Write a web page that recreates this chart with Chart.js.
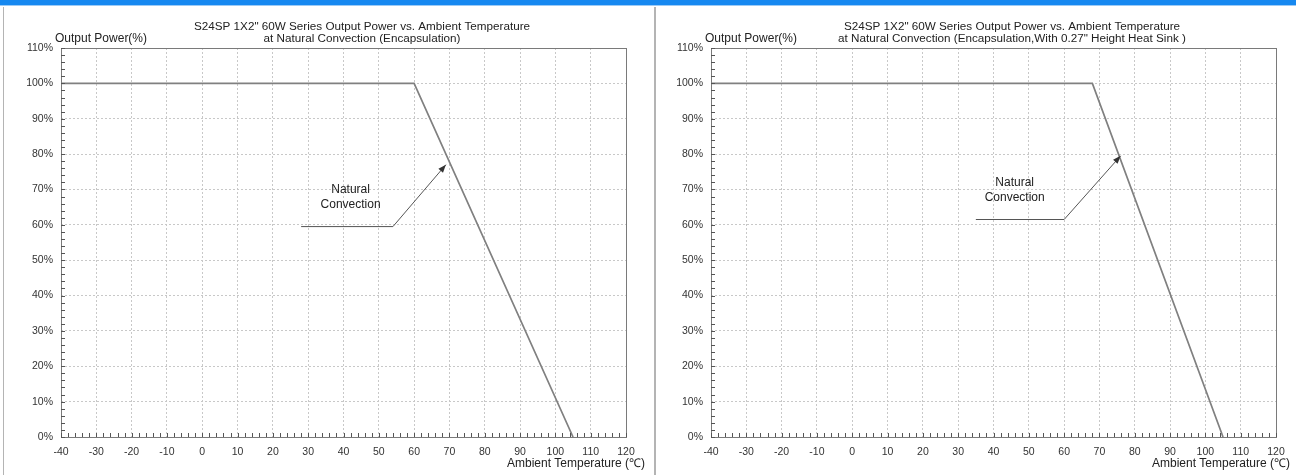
<!DOCTYPE html>
<html>
<head>
<meta charset="utf-8">
<script src="https://cdn.jsdelivr.net/npm/chart.js@4"></script>
<style>
body{margin:0;background:#fff;width:1296px;height:475px;overflow:hidden;position:relative}
#band{position:absolute;left:0;top:0;width:1296px;height:5px;background:#1688f0;border-bottom:1px solid #9ccaf5}
#c1{position:absolute;left:0;top:0}
#c2{position:absolute;left:655px;top:0}
.sep{position:absolute;top:7px;bottom:0;background:#b4b4b4}
</style>
</head>
<body>
<canvas id="c1" width="655" height="475"></canvas>
<canvas id="c2" width="641" height="475"></canvas>
<div id="band"></div>
<div class="sep" style="left:3px;width:1px"></div>
<div class="sep" style="left:654px;width:2px"></div>
<script>
// derating curves
var temp1 = [-40, 60, 105];
var power1 = [100, 100, 0];
var temp2 = [-40, 68, 105];
var power2 = [100, 100, 0];

// "Natural Convection" arrow (temperature, %)
var note1X = [28, 54, 69];
var note1Y = [59.5, 59.5, 77];
var note2X = [35, 60, 76];
var note2Y = [61.5, 61.5, 79.5];
var noteLabel1 = [42, 68];
var noteLabel2 = [46, 70];
var noteText = ["Natural", "Convection"];

var title1 = ["S24SP 1X2\" 60W Series Output Power vs. Ambient Temperature", "at Natural Convection (Encapsulation)"];
var title2 = ["S24SP 1X2\" 60W Series Output Power vs. Ambient Temperature", "at Natural Convection (Encapsulation,With 0.27\" Height Heat Sink )"];
var yName = "Output Power(%)";
var xName = "Ambient Temperature (\u2103)";

Chart.defaults.font.family = '"Liberation Sans", Arial, sans-serif';

function pts(xs, ys) {
  return xs.map(function(x, i){ return {x: x, y: ys[i]}; });
}

var decorate = {
  id: 'decorate',
  afterDatasetsDraw: function(chart) {
    var ctx = chart.ctx, a = chart.chartArea;
    var sx = chart.scales.x, sy = chart.scales.y;
    var o = chart.options.plugins.decorate;
    ctx.save();
    // plot box
    ctx.strokeStyle = '#7a7a7a';
    ctx.lineWidth = 1;
    ctx.strokeRect(Math.round(a.left) + 0.5, Math.round(a.top) + 0.5, a.right - a.left, a.bottom - a.top);
    // minor ticks
    ctx.strokeStyle = '#555';
    ctx.beginPath();
    for (var t = -40; t <= 120; t += 2) {
      var px = Math.round(sx.getPixelForValue(t)) + 0.5;
      ctx.moveTo(px, a.bottom);
      ctx.lineTo(px, a.bottom - 4);
    }
    for (var p = 0; p <= 110; p += 2) {
      var py = Math.round(sy.getPixelForValue(p)) + 0.5;
      ctx.moveTo(a.left, py);
      ctx.lineTo(a.left + 4, py);
    }
    ctx.stroke();
    // arrow head at the end of the note line
    var meta = chart.getDatasetMeta(1).data;
    var p1 = meta[meta.length - 2], p2 = meta[meta.length - 1];
    var ang = Math.atan2(p2.y - p1.y, p2.x - p1.x);
    ctx.fillStyle = '#333';
    ctx.beginPath();
    ctx.moveTo(p2.x, p2.y);
    ctx.lineTo(p2.x - 8 * Math.cos(ang) + 3 * Math.sin(ang), p2.y - 8 * Math.sin(ang) - 3 * Math.cos(ang));
    ctx.lineTo(p2.x - 8 * Math.cos(ang) - 3 * Math.sin(ang), p2.y - 8 * Math.sin(ang) + 3 * Math.cos(ang));
    ctx.closePath();
    ctx.fill();
    // note text
    ctx.fillStyle = '#222';
    ctx.font = '12px "Liberation Sans", Arial, sans-serif';
    ctx.textAlign = 'center';
    ctx.textBaseline = 'middle';
    var lx = sx.getPixelForValue(o.label[0]), ly = sy.getPixelForValue(o.label[1]);
    ctx.fillText(noteText[0], lx, ly - 7);
    ctx.fillText(noteText[1], lx, ly + 8);
    // titles
    ctx.font = '11.7px "Liberation Sans", Arial, sans-serif';
    ctx.fillText(o.title[0], a.left + 301, 27);
    ctx.fillText(o.title[1], a.left + 301, 39);
    ctx.textAlign = 'left';
    ctx.font = '12px "Liberation Sans", Arial, sans-serif';
    ctx.fillText(yName, a.left - 6, 39);
    ctx.textAlign = 'right';
    ctx.fillText(xName, a.right + o.xNameOff, 464);
    ctx.restore();
  }
};

function makeChart(id, temps, powers, nx, ny, label, title, yW, padR, xOff) {
  return new Chart(id, {
    type: 'line',
    data: {
      datasets: [{
        data: pts(temps, powers),
        borderColor: '#808080',
        borderWidth: 1.7,
        pointRadius: 0,
        tension: 0
      }, {
        data: pts(nx, ny),
        borderColor: '#555',
        borderWidth: 1,
        pointRadius: 0,
        tension: 0
      }]
    },
    options: {
      responsive: false,
      animation: false,
      layout: {padding: {top: 48, right: padR, left: 0, bottom: 0}},
      plugins: {
        legend: {display: false},
        tooltip: {enabled: false},
        decorate: {label: label, title: title, xNameOff: xOff}
      },
      scales: {
        x: {
          type: 'linear', min: -40, max: 120,
          ticks: {stepSize: 10, padding: 9, color: '#333', font: {size: 10.5}, maxRotation: 0, autoSkip: false},
          grid: {color: '#c8c8c8', drawTicks: false},
          border: {display: false, dash: [2, 2]},
          afterFit: function(s){ s.height = 38; }
        },
        y: {
          min: 0, max: 110,
          ticks: {stepSize: 10, padding: 8, color: '#333', font: {size: 10.5}, callback: function(v){ return v + '%'; }},
          grid: {color: '#c8c8c8', drawTicks: false},
          border: {display: false, dash: [2, 2]},
          afterFit: function(s){ s.width = yW; }
        }
      }
    },
    plugins: [decorate]
  });
}

makeChart('c1', temp1, power1, note1X, note1Y, noteLabel1, title1, 61, 29, 19);
makeChart('c2', temp2, power2, note2X, note2Y, noteLabel2, title2, 56, 20, 14);
</script>
</body>
</html>
